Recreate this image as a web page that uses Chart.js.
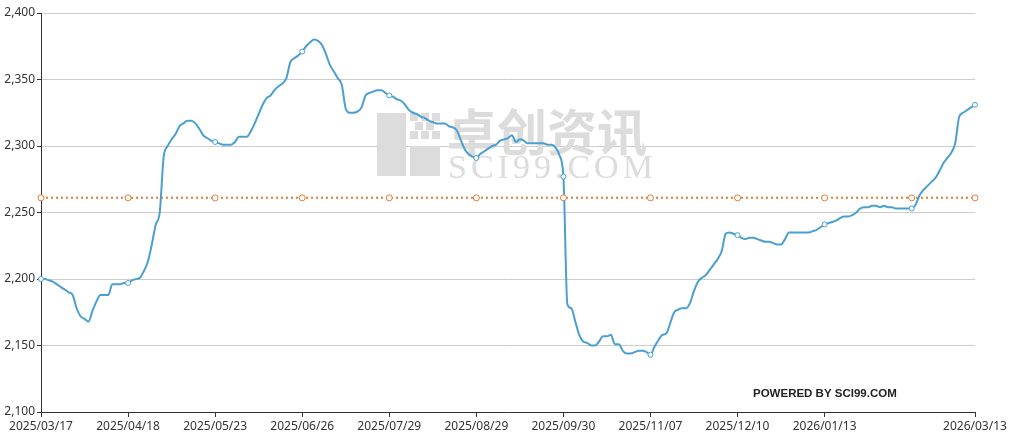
<!DOCTYPE html>
<html>
<head>
<meta charset="utf-8">
<script src="https://cdn.jsdelivr.net/npm/chart.js@4.4.1/dist/chart.umd.min.js"></script>
<style>
    html, body { margin: 0; padding: 0; background: #fff; }
    #wrap { width: 1014px; height: 441px; }
</style>
</head>
<body>
<div id="wrap"><canvas id="priceChart" width="1014" height="441"></canvas></div>
<script>
// tick positions (point index) and their date labels
const tickIdx = [0, 22, 44, 66, 88, 110, 132, 154, 176, 198, 236];
const tickLabels = ['2025/03/17', '2025/04/18', '2025/05/23', '2025/06/26', '2025/07/29', '2025/08/29',
    '2025/09/30', '2025/11/07', '2025/12/10', '2026/01/13', '2026/03/13'];
// points that carry a symbol
const markIdx = [0, 22, 44, 66, 88, 110, 132, 154, 176, 198, 220, 236];

// daily price
const prices = [
    2200, 2200, 2199, 2198, 2196, 2194, 2192, 2190, 2188, 2178, 2172, 2170, 2168, 2176, 2183, 2188, 2188, 2188, 2196, 2196, 2196, 2197,
    2197, 2199, 2200, 2201, 2206, 2213, 2226, 2241, 2250, 2292, 2300, 2305, 2309, 2315, 2317, 2319, 2319, 2317, 2313, 2308, 2306, 2304,
    2303, 2302, 2301, 2301, 2301, 2303, 2307, 2307, 2307, 2311, 2317, 2324, 2331, 2336, 2338, 2342, 2345, 2347, 2351, 2363, 2366, 2368,
    2371, 2375, 2378, 2380, 2379, 2376, 2369, 2361, 2356, 2351, 2346, 2328, 2325, 2325, 2326, 2329, 2338, 2340, 2341, 2342, 2342, 2340,
    2338, 2337, 2335, 2334, 2331, 2327, 2325, 2324, 2322, 2321, 2319, 2318, 2317, 2317, 2317, 2315, 2314, 2312, 2305, 2298, 2294, 2292,
    2291, 2294, 2296, 2298, 2300, 2301, 2304, 2305, 2306, 2308, 2303, 2305, 2304, 2302, 2302, 2302, 2302, 2302, 2301, 2301, 2299, 2293,
    2277, 2181, 2178, 2168, 2158, 2153, 2152, 2150, 2150, 2153, 2157, 2157, 2158, 2151, 2151, 2146, 2144, 2144, 2145, 2146, 2146, 2145,
    2143, 2149, 2154, 2158, 2159, 2167, 2175, 2177, 2178, 2178, 2182, 2191, 2198, 2201, 2203, 2207, 2211, 2215, 2221, 2234, 2235, 2234,
    2233, 2231, 2230, 2231, 2231, 2230, 2229, 2228, 2228, 2227, 2226, 2226, 2230, 2235, 2235, 2235, 2235, 2235, 2235, 2236, 2237, 2239,
    2241, 2242, 2243, 2244, 2246, 2247, 2247, 2248, 2250, 2253, 2254, 2254, 2255, 2255, 2254, 2255, 2254, 2254, 2253, 2253, 2253, 2253,
    2253, 2256, 2263, 2267, 2270, 2273, 2276, 2281, 2287, 2291, 2295, 2302, 2322, 2325, 2327, 2329, 2331
];
const avgPrice = 2261;

const yMin = 2100, yMax = 2400, yStep = 50;

const lineBlue = '#4a9fd1';
const avgOrange = '#e37c35';
const labelFont = { family: '"Noto Sans", "Liberation Sans", sans-serif', size: 12 };

const priceData = prices.map((v, i) => ({ x: i, y: v }));
const avgData = markIdx.map((i) => ({ x: i, y: avgPrice }));

const watermark = {
    id: 'watermark',
    beforeDatasetsDraw(chart) {
        const c = chart.ctx;
        c.save();
        c.fillStyle = '#dcdcdc';
        // logo blocks
        c.fillRect(377, 113, 29, 63);
        c.fillRect(410, 146, 30, 30);
        let cells = [[410, 113], [421, 113], [432, 113], [415, 122], [426, 122], [410, 131], [421, 131], [432, 131]];
        cells.forEach((p) => c.fillRect(p[0], p[1], 8, 8));
        c.font = 'bold 50px "Noto Sans CJK SC"';
        c.textBaseline = 'alphabetic';
        c.fillText('卓创资讯', 447, 151);
        c.font = '34px "Liberation Serif", serif';
        c.letterSpacing = '4px';
        c.fillText('SCI99.COM', 448, 178);
        c.restore();
    },
    afterDraw(chart) {
        const c = chart.ctx;
        c.save();
        c.fillStyle = '#222';
        c.font = 'bold 11.5px "Liberation Sans", sans-serif';
        c.textBaseline = 'middle';
        c.fillText('POWERED BY SCI99.COM', 753, 394);
        c.restore();
    }
};

const ctx = document.getElementById('priceChart').getContext('2d');
new Chart(ctx, {
    type: 'line',
    data: {
        datasets: [{
            label: '均价',
            data: avgData,
            borderColor: avgOrange,
            borderWidth: 2,
            borderDash: [2, 3],
            pointRadius: 3,
            pointBackgroundColor: '#fff',
            pointBorderColor: avgOrange,
            pointBorderWidth: 1,
            clip: false,
            order: 0
        }, {
            label: '价格',
            data: priceData,
            borderColor: lineBlue,
            borderWidth: 2,
            cubicInterpolationMode: 'monotone',
            pointRadius: (c) => markIdx.includes(c.dataIndex) ? 2.5 : 0,
            pointBackgroundColor: '#fff',
            pointBorderColor: lineBlue,
            pointBorderWidth: 1,
            clip: false,
            order: 1
        }]
    },
    options: {
        responsive: false,
        animation: false,
        devicePixelRatio: 1,
        locale: 'en-US',
        layout: { padding: { top: 13, right: 39, left: 0, bottom: 0 } },
        plugins: { legend: { display: false }, tooltip: { enabled: false } },
        scales: {
            x: {
                type: 'linear',
                min: 0,
                max: prices.length - 1,
                afterBuildTicks: (scale) => { scale.ticks = tickIdx.map((v) => ({ value: v })); },
                afterFit: (scale) => { scale.height = 29; },
                ticks: {
                    autoSkip: false,
                    maxRotation: 0,
                    padding: 2,
                    color: '#333',
                    font: labelFont,
                    callback: (v) => tickLabels[tickIdx.indexOf(v)]
                },
                grid: { drawOnChartArea: false, tickLength: 5, tickColor: '#333' },
                border: { color: '#333', width: 1 }
            },
            y: {
                min: yMin,
                max: yMax,
                afterFit: (scale) => { scale.width = 41; },
                ticks: { stepSize: yStep, color: '#333', font: labelFont, padding: 2 },
                grid: { color: '#cccccc', tickLength: 4, tickColor: '#333' },
                border: { color: '#333', width: 1 }
            }
        }
    },
    plugins: [watermark]
});
</script>
</body>
</html>
